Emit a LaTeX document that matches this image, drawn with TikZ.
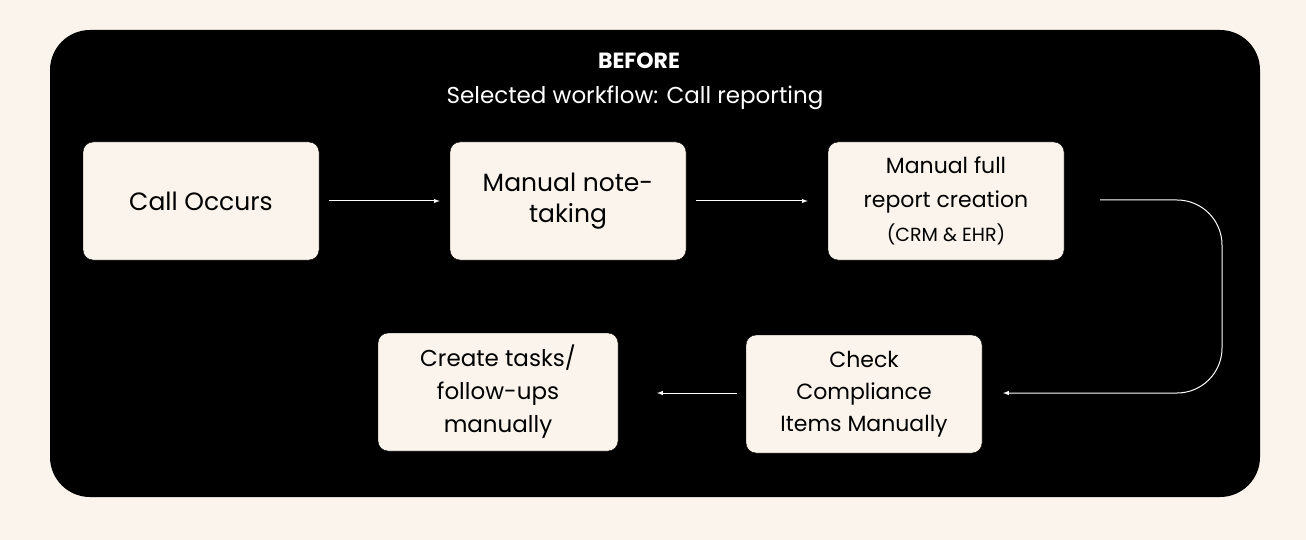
\documentclass[tikz,border=0pt]{standalone}
\usepackage{fontspec}
\setmainfont{Poppins}
\definecolor{cream}{HTML}{FBF4EC}
\begin{document}
\begin{tikzpicture}[x=1pt,y=-1pt,
  box/.style={draw=black,fill=cream,rounded corners=10pt,minimum width=236pt,minimum height=118pt,align=center,inner sep=4pt},
  conn/.style={draw=white,line width=1pt,-latex}]
\fill[cream] (0,0) rectangle (1306,540);
\useasboundingbox (0,0) rectangle (1306,540);
\fill[black,rounded corners=40pt] (50,30) rectangle (1260,497);
\node[white,font=\fontsize{22}{26}\selectfont\bfseries] (t) at (639,61) {BEFORE};
\node[white,font=\fontsize{23}{28}\selectfont] (s) at (635,98) {Selected workflow: Call reporting};
\node[box,font=\fontsize{25}{31}\selectfont] (a) at (201,201) {Call Occurs};
\node[box,font=\fontsize{25}{31}\selectfont] (b) at (568,201) {Manual note-\\taking};
\node[box,font=\fontsize{22}{34}\selectfont] (c) at (946,201) {Manual full\\report creation\\{\fontsize{19}{24}\selectfont(CRM \& EHR)}};
\node[box,font=\fontsize{22}{32}\selectfont] (d) at (864,394) {Check\\Compliance\\Items Manually};
\node[box,minimum width=240pt,font=\fontsize{23}{33}\selectfont] (e) at (498,392) {Create tasks/\\follow-ups\\manually};
\draw[conn] ([xshift=10pt]a.east) -- ([xshift=-10pt]b.west);
\draw[conn] ([xshift=10pt]b.east) -- ([xshift=-20pt]c.west);
\coordinate (c1) at (1100,200);
\coordinate (d1) at (1003,393);
\draw[conn,rounded corners=45pt] (c1) -- (1222,200) -- (1222,393) -- (d1);
\draw[conn] ([xshift=-9pt]d.west|-d1) -- (657,393);
\end{tikzpicture}
\end{document}
